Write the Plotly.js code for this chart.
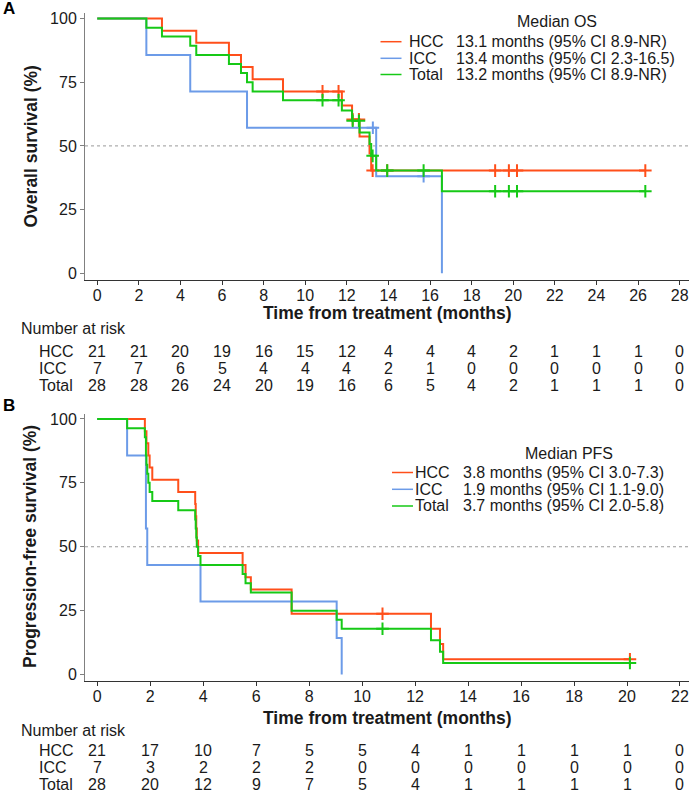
<!DOCTYPE html>
<html>
<head>
<meta charset="utf-8">
<script src="https://cdn.plot.ly/plotly-3.0.1.min.js"></script>
<style>html,body{margin:0;padding:0;background:#fff;}#chart{width:689px;height:792px;}</style>
</head>
<body>
<div id="chart"></div>
<script>
// ---------- Overall survival (panel A) ----------
const osHccTime = [0, 3.11, 4.76, 6.33, 6.91, 7.47, 8.93, 11.76, 12.25, 12.61, 13.09, 13.17, 26.35];
const osHccSurv = [100, 95.2, 90.5, 85.7, 81.0, 76.2, 71.4, 65.9, 60.4, 53.7, 47.0, 40.3, 40.3];
const osHccCensTime = [10.83, 11.6, 12.28, 12.58, 13.24, 13.94, 19.13, 19.79, 20.18, 26.35];
const osHccCensSurv = [71.4, 71.4, 60.4, 60.4, 40.3, 40.3, 40.3, 40.3, 40.3, 40.3];

const osIccTime = [0, 2.36, 4.47, 7.2, 13.41, 16.57];
const osIccSurv = [100, 85.7, 71.4, 57.1, 38.1, 0];
const osIccCensTime = [13.25, 15.69];
const osIccCensSurv = [57.1, 38.1];

const osTotTime = [0, 2.36, 3.11, 4.47, 4.76, 6.33, 6.91, 7.2, 7.47, 8.93, 11.76, 12.25, 12.61, 13.09, 13.17, 13.41, 16.57, 26.35];
const osTotSurv = [100, 96.4, 92.9, 89.3, 85.7, 82.1, 78.6, 75.0, 71.4, 67.9, 63.9, 59.9, 55.3, 50.7, 46.1, 40.3, 32.2, 32.2];
const osTotCensTime = [10.83, 11.6, 12.28, 12.58, 13.24, 13.94, 15.69, 19.13, 19.79, 20.18, 26.35];
const osTotCensSurv = [67.9, 67.9, 59.9, 59.9, 46.1, 40.3, 40.3, 32.2, 32.2, 32.2, 32.2];

const osTicks = [0, 2, 4, 6, 8, 10, 12, 14, 16, 18, 20, 22, 24, 26, 28];
const osRiskHcc = [21, 21, 20, 19, 16, 15, 12, 4, 4, 4, 2, 1, 1, 1, 0];
const osRiskIcc = [7, 7, 6, 5, 4, 4, 4, 2, 1, 0, 0, 0, 0, 0, 0];
const osRiskTot = [28, 28, 26, 24, 20, 19, 16, 6, 5, 4, 2, 1, 1, 1, 0];
const osMedians = ["13.1 months (95% CI 8.9-NR)", "13.4 months (95% CI 2.3-16.5)", "13.2 months (95% CI 8.9-NR)"];

// ---------- Progression-free survival (panel B) ----------
const pfsHccTime = [0, 1.80, 1.86, 1.93, 1.98, 2.08, 3.06, 3.70, 3.72, 3.74, 3.76, 3.81, 5.49, 5.60, 5.80, 7.34, 12.60, 12.94, 13.06, 20.11];
const pfsHccSurv = [100, 95.2, 90.5, 85.7, 81.0, 76.2, 71.4, 66.7, 61.9, 57.1, 52.4, 47.6, 42.9, 38.1, 33.3, 23.8, 17.9, 11.9, 6.0, 6.0];
const pfsHccCensTime = [10.77, 20.11];
const pfsHccCensSurv = [23.8, 6.0];

const pfsIccTime = [0, 1.13, 1.84, 1.89, 3.90, 9.04, 9.23];
const pfsIccSurv = [100, 85.7, 57.1, 42.9, 28.6, 14.3, 0];

const pfsTotTime = [0, 1.13, 1.80, 1.84, 1.86, 1.89, 1.93, 1.98, 2.08, 3.06, 3.70, 3.72, 3.74, 3.76, 3.81, 3.90, 5.49, 5.60, 5.80, 7.34, 9.04, 9.23, 12.60, 12.94, 13.06, 20.11];
const pfsTotSurv = [100, 96.4, 92.9, 85.7, 82.1, 78.6, 75.0, 71.4, 67.9, 64.3, 60.7, 57.1, 53.6, 50.0, 46.4, 42.9, 39.3, 35.7, 32.1, 25.0, 21.4, 17.9, 13.4, 8.9, 4.5, 4.5];
const pfsTotCensTime = [10.77, 20.11];
const pfsTotCensSurv = [17.9, 4.5];

const pfsTicks = [0, 2, 4, 6, 8, 10, 12, 14, 16, 18, 20, 22];
const pfsRiskHcc = [21, 17, 10, 7, 5, 5, 4, 1, 1, 1, 1, 0];
const pfsRiskIcc = [7, 3, 2, 2, 2, 0, 0, 0, 0, 0, 0, 0];
const pfsRiskTot = [28, 20, 12, 9, 7, 5, 4, 1, 1, 1, 1, 0];
const pfsMedians = ["3.8 months (95% CI 3.0-7.3)", "1.9 months (95% CI 1.1-9.0)", "3.7 months (95% CI 2.0-5.8)"];

const groups = ["HCC", "ICC", "Total"];
const yTicks = [0, 25, 50, 75, 100];

// ---------- styling ----------
const W = 689, H = 792;
const colors = ["#ff4f1a", "#6c9be8", "#16c916"];
const FONT = "Liberation Sans, Arial, sans-serif";
const TXT = "#1a1a1a";
const px = v => v / W;
const py = v => 1 - v / H;

function curve(t, s, c, xa, ya) {
  return {x: t, y: s, xaxis: xa, yaxis: ya, mode: "lines", line: {shape: "hv", color: c, width: 2}, hoverinfo: "skip"};
}
function cens(t, s, c, xa, ya) {
  return {x: t, y: s, xaxis: xa, yaxis: ya, mode: "markers",
    marker: {symbol: "cross-thin", size: 9, color: c, line: {color: c, width: 2}}, hoverinfo: "skip"};
}

const data = [
  curve(osHccTime, osHccSurv, colors[0], "x", "y"),
  cens(osHccCensTime, osHccCensSurv, colors[0], "x", "y"),
  curve(osIccTime, osIccSurv, colors[1], "x", "y"),
  cens(osIccCensTime, osIccCensSurv, colors[1], "x", "y"),
  curve(osTotTime, osTotSurv, colors[2], "x", "y"),
  cens(osTotCensTime, osTotCensSurv, colors[2], "x", "y"),
  curve(pfsHccTime, pfsHccSurv, colors[0], "x2", "y2"),
  cens(pfsHccCensTime, pfsHccCensSurv, colors[0], "x2", "y2"),
  curve(pfsIccTime, pfsIccSurv, colors[1], "x2", "y2"),
  curve(pfsTotTime, pfsTotSurv, colors[2], "x2", "y2"),
  cens(pfsTotCensTime, pfsTotCensSurv, colors[2], "x2", "y2")
];

function xAxis(range, ticks, anchor) {
  return {domain: [px(85), 1], range: range, tickvals: ticks, ticktext: ticks.map(String),
    ticks: "outside", ticklen: 4, tickcolor: "#333", tickwidth: 1, ticklabelstandoff: -3,
    showline: true, linecolor: "#333", linewidth: 1, showgrid: false, zeroline: false,
    tickfont: {family: FONT, size: 16, color: TXT}, anchor: anchor, fixedrange: true};
}
function yAxis(domain, range, anchor) {
  return {domain: domain, range: range, tickvals: yTicks, ticktext: yTicks.map(String),
    ticks: "outside", ticklen: 4, tickcolor: "#808080", tickwidth: 1,
    showline: true, linecolor: "#808080", linewidth: 1, showgrid: false, zeroline: false,
    tickfont: {family: FONT, size: 16, color: TXT}, anchor: anchor, fixedrange: true};
}

const annotations = [];
const shapes = [];
function txt(text, x, y, opts) {
  annotations.push(Object.assign({text: text, x: x, y: y, xref: "paper", yref: "paper",
    showarrow: false, xanchor: "left", yanchor: "middle",
    font: {family: FONT, size: 16, color: TXT}}, opts || {}));
}
const titleFont = {family: FONT, size: 17.5, color: TXT};

// panel letters
txt("<b>A</b>", px(1), py(9), {font: {family: FONT, size: 17, color: "#000"}});
txt("<b>B</b>", px(1), py(405), {font: {family: FONT, size: 17, color: "#000"}});

// axis titles
txt("<b>Overall survival (%)</b>", px(30), py(146.5), {xanchor: "center", textangle: -90, font: titleFont});
txt("<b>Progression-free survival (%)</b>", px(30), py(547), {xanchor: "center", textangle: -90, font: titleFont});
txt("<b>Time from treatment (months)</b>", 0.5, py(313.5), {xref: "x domain", xanchor: "center", font: titleFont});
txt("<b>Time from treatment (months)</b>", 0.5, py(718), {xref: "x2 domain", xanchor: "center", font: titleFont});

// reference lines at 50 %
shapes.push({type: "line", xref: "x domain", yref: "y", x0: 0, x1: 1, y0: 50, y1: 50, line: {color: "#999", width: 1, dash: "dot"}, layer: "below"});
shapes.push({type: "line", xref: "x2 domain", yref: "y2", x0: 0, x1: 1, y0: 50, y1: 50, line: {color: "#999", width: 1, dash: "dot"}, layer: "below"});

// legends
function legend(title, titleX, titleY, rowsY, lineX0, lineX1, grpX, medX, medians) {
  txt(title, px(titleX), py(titleY), {xanchor: "center"});
  groups.forEach((g, i) => {
    shapes.push({type: "line", xref: "paper", yref: "paper", x0: px(lineX0), x1: px(lineX1), y0: py(rowsY[i]), y1: py(rowsY[i]), line: {color: colors[i], width: 1.5}});
    txt(g, px(grpX), py(rowsY[i]));
    txt(medians[i], px(medX), py(rowsY[i]));
  });
}
legend("Median OS", 557, 21.5, [41.7, 58.3, 74.5], 380.5, 401.5, 406.5, 453.5, osMedians);
legend("Median PFS", 569, 453.5, [472.5, 489.3, 506], 392, 413, 413.5, 460.5, pfsMedians);

// numbers at risk
function riskTable(xref, ticks, rows, headY, rowY) {
  txt("Number at risk", px(19), py(headY));
  rows.forEach((vals, r) => {
    txt(groups[r], px(37), py(rowY[r]));
    ticks.forEach((t, i) => {
      txt(String(vals[i]), t, py(rowY[r]), {xref: xref, xanchor: "center"});
    });
  });
}
riskTable("x", osTicks, [osRiskHcc, osRiskIcc, osRiskTot], 328.5, [351.5, 368.3, 385]);
riskTable("x2", pfsTicks, [pfsRiskHcc, pfsRiskIcc, pfsRiskTot], 730.5, [750.5, 767.5, 784]);

const layout = {
  width: W, height: H, margin: {l: 0, r: 0, t: 0, b: 0},
  paper_bgcolor: "#fff", plot_bgcolor: "#fff", showlegend: false,
  font: {family: FONT, color: TXT},
  xaxis: xAxis([-0.59, 28.45], osTicks, "y"),
  yaxis: yAxis([py(280), py(13)], [-2.63, 102.16], "x"),
  xaxis2: xAxis([-0.46, 22.34], pfsTicks, "y2"),
  yaxis2: yAxis([py(681), py(413.5)], [-2.54, 102.15], "x2"),
  annotations: annotations, shapes: shapes
};

Plotly.newPlot("chart", data, layout, {staticPlot: true, displayModeBar: false});
</script>
</body>
</html>
